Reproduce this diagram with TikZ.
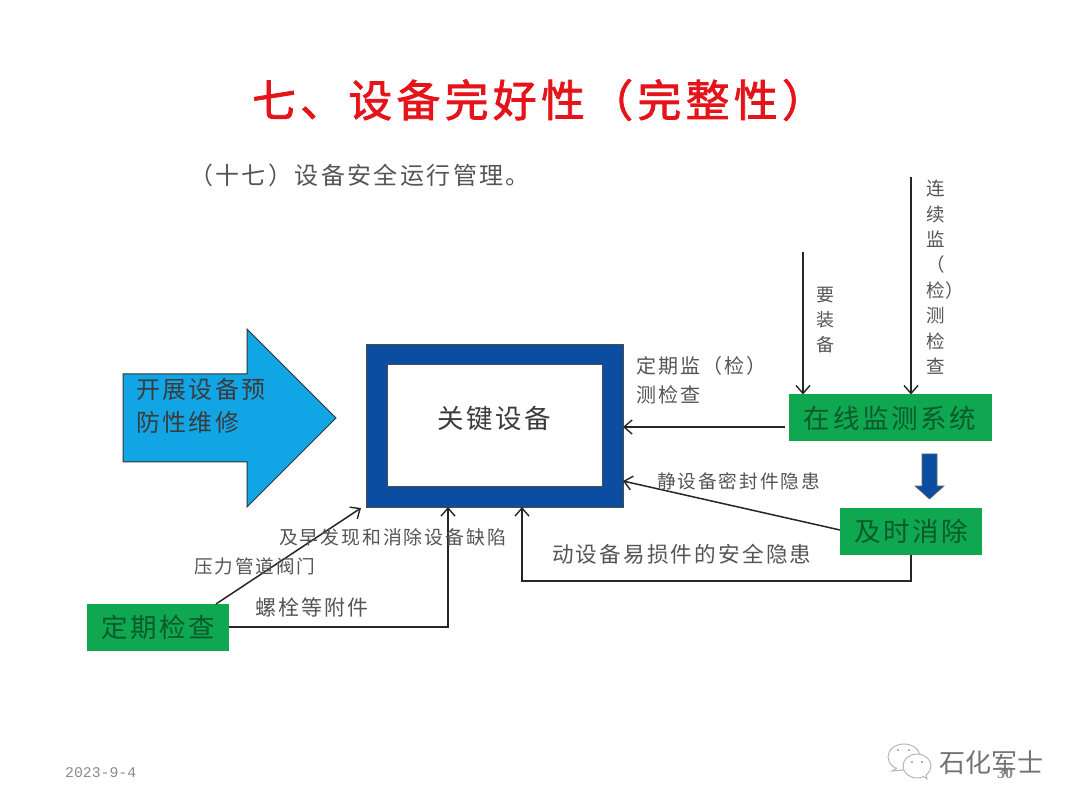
\documentclass[tikz,border=0pt]{standalone}
\usepackage{fontspec}
\setmainfont{Liberation Serif}
\newfontfamily\cjk[LetterSpace=10]{Noto Sans CJK SC}
\newfontfamily\cjkn{Noto Sans CJK SC}
\newfontfamily\cjkt[LetterSpace=10,FakeBold=1.8]{Noto Sans CJK SC}
\newfontfamily\dmono{Liberation Mono}
\usetikzlibrary{arrows.meta}
\definecolor{gbox}{HTML}{0FA750}
\definecolor{gtxt}{HTML}{0B5A2C}
\definecolor{navy}{HTML}{0B4DA0}
\definecolor{sky}{HTML}{12A5E6}
\definecolor{ttl}{HTML}{E5141B}
\definecolor{lbl}{HTML}{555555}
\tikzset{
 x=1pt,y=-1pt,
 conn/.style={draw=black!85,line width=1.5pt,-{Straight Barb[length=8pt,width=14pt,line width=1.4pt]}},
 gbx/.style={fill=gbox,draw=none,inner sep=0,text=gtxt,font=\cjk\fontsize{26.5}{27}\selectfont,anchor=center},
 lab/.style={text=lbl,inner sep=0,anchor=west},
 vlab/.style={text=lbl,inner sep=0,align=center,anchor=north},
 bubble/.style={draw=black!30,fill=white,line width=0.9pt},
}
\begin{document}
\begin{tikzpicture}
\useasboundingbox (0,0) rectangle (1080,810);
\fill[white] (0,0) rectangle (1080,810);
% title
\node[inner sep=0,text=ttl,font=\cjkt\fontsize{43.8}{44}\selectfont] (title) at (539,100) {七、设备完好性（完整性）};
\node[inner sep=0,anchor=west,text=lbl,font=\cjk\fontsize{24}{24}\selectfont] (sub) at (189,175) {（十七）设备安全运行管理。};
% big arrow
\path[fill=sky,draw=black!80,line width=1pt] (123,374) -- (247,374) -- (247,329) -- (336,418) -- (247,507) -- (247,462) -- (123,462) -- cycle;
\node[inner sep=0,anchor=north west,align=left,text=lbl!70!black,font=\cjk\fontsize{24}{33}\selectfont] (prev) at (136,378) {开展设备预\\防性维修};
% key equipment
\path[fill=navy,draw=black!70,line width=0.8pt] (366,344) rectangle (623,507);
\node[fill=white,draw=black!70,line width=0.8pt,minimum width=215pt,minimum height=122pt,inner sep=0] (key) at (494.5,425.5) {};
\node[inner sep=0,text=lbl!70!black,font=\cjk\fontsize{26.5}{27}\selectfont] (keyt) at (494,418) {关键设备};
\coordinate (outerR1) at (623,427);
\coordinate (outerR2) at (623,481);
\coordinate (outerB1) at (448,507);
\coordinate (outerB2) at (522,507);
\coordinate (outerL) at (361,508);
% green boxes
\node[gbx,minimum width=203pt,minimum height=47pt] (online) at (890,418) {在线监测系统};
\node[gbx,minimum width=142pt,minimum height=47pt] (fix) at (911,531) {及时消除};
\node[gbx,minimum width=142pt,minimum height=47pt] (check) at (158,627) {定期检查};
% block arrow
\path[fill=navy,draw=black!60,line width=0.6pt] (922,454) -- (937,454) -- (937,486) -- (944,486) -- (929.5,499) -- (915,486) -- (922,486) -- cycle;
% free ends
\coordinate (top1) at (803,252);
\coordinate (top2) at (911,177);
\coordinate (online1) at (803,394.5);
\coordinate (online2) at (911,394.5);
% connectors
\draw[conn] (top1) -- (online1);
\draw[conn] (top2) -- (online2);
\coordinate (o0) at (785,427);
\draw[conn] (o0) -- (outerR1);
\coordinate (f0) at (840,530);
\draw[conn] (f0) -- (outerR2);
\coordinate (f1) at (911,554.5);
\draw[conn] (f1) -- (911,581) -- (522,581) -- (outerB2);
\coordinate (c0) at (229,627);
\draw[conn] (c0) -- (448,627) -- (outerB1);
\coordinate (c1) at (216,604);
\draw[conn] (c1) -- (outerL);
% labels
\node[lab,anchor=north west,align=left,font=\cjk\fontsize{20}{29}\selectfont] (l1) at (636,356) {定期监（检）\\测检查};
\node[lab,font=\cjk\fontsize{18.7}{20}\selectfont] (l2) at (657,481) {静设备密封件隐患};
\node[lab,font=\cjk\fontsize{21.6}{22}\selectfont] (l3) at (552,554) {动设备易损件的安全隐患};
\node[lab,font=\cjk\fontsize{18.9}{20}\selectfont] (l4) at (279,537) {及早发现和消除设备缺陷};
\node[lab,font=\cjk\fontsize{18.6}{20}\selectfont] (l5) at (194,566) {压力管道阀门};
\node[lab,font=\cjk\fontsize{21}{22}\selectfont] (l6) at (255,607) {螺栓等附件};
\node[vlab,font=\cjkn\fontsize{18}{25}\selectfont] (l7) at (825,287) {要\\装\\备};
\node[vlab,font=\cjkn\fontsize{18.5}{25.4}\selectfont] (l8) at (936,180) {连\\续\\监\\（\\检\rlap{）}\\测\\检\\查};
% footer
\node[inner sep=0,anchor=west,text=black!45,font=\dmono\fontsize{14.8}{15}\selectfont] (date) at (65,773) {2023-9-4};
\node[inner sep=0,text=black!45,font=\bfseries\fontsize{16}{16}\selectfont] (page) at (1005,773) {30};
% watermark
\path[bubble] (904,757) ellipse (16 and 13);
\path[bubble] (897,768) -- (892,771) -- (903,770);
\path[bubble] (917,766) ellipse (14 and 12);
\path[bubble] (923,776) -- (927,779) -- (926,774);
\fill[black!40] (898,750) circle (1.1) (909,750) circle (1.1) (912,762) circle (1.1) (922,762) circle (1.1);
\node[inner sep=0,text=black!55,font=\cjkn\fontsize{26}{26}\selectfont] (wm) at (991,763) {石化军士};
\end{tikzpicture}
\end{document}
